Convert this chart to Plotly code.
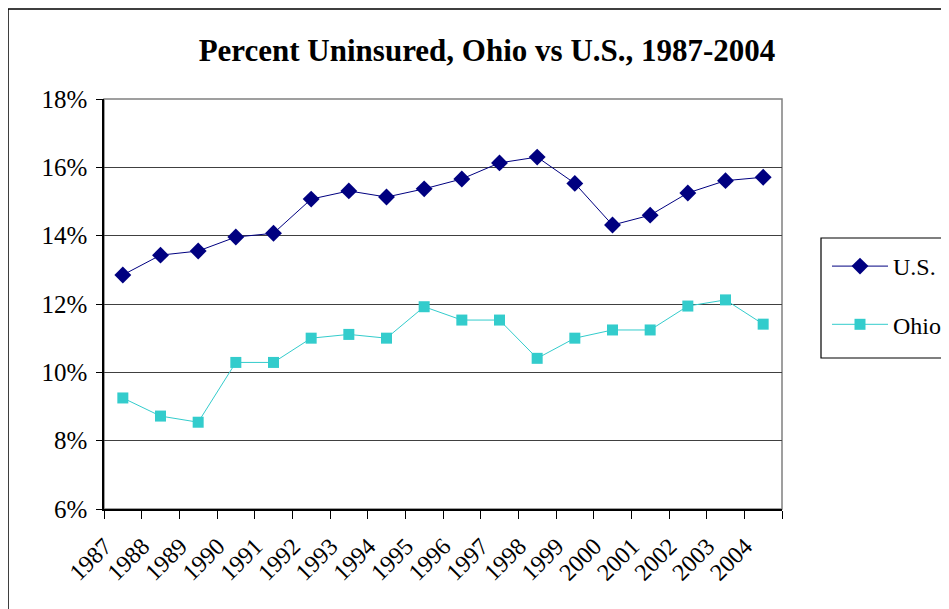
import plotly.graph_objects as go

years = [str(y) for y in range(1987, 2005)]
us_pct = [12.85, 13.43, 13.55, 13.96, 14.07, 15.07, 15.31, 15.13, 15.37,
          15.66, 16.13, 16.30, 15.53, 14.31, 14.60, 15.25, 15.61, 15.71]
ohio_pct = [9.25, 8.72, 8.54, 10.29, 10.29, 11.00, 11.11, 11.00, 11.92,
            11.53, 11.53, 10.41, 11.00, 11.24, 11.24, 11.94, 12.12, 11.41]
y_ticks = [6, 8, 10, 12, 14, 16, 18]
y_tick_labels = [f"{v}%" for v in y_ticks]

FONT = "Liberation Serif, Times New Roman, serif"

# page has an 8px body margin, so the figure is offset by (8, 8)
W, H = 941, 601
L, T, R, B = 96, 91, 167, 100
PW, PH = W - L - R, H - T - B


def px_x(page_x):
    return (page_x - 8 - L) / PW


def px_y(page_y):
    return 1 - (page_y - 8 - T) / PH


fig = go.Figure()
fig.add_trace(go.Scatter(
    x=years, y=us_pct, name="U.S.", mode="lines+markers",
    line=dict(color="#000080", width=1),
    marker=dict(symbol="diamond", size=13, color="#000080"),
    legendgroup="us",
))
fig.add_trace(go.Scatter(
    x=years, y=ohio_pct, name="Ohio", mode="lines+markers",
    line=dict(color="#33CCCC", width=1),
    marker=dict(symbol="square", size=11, color="#33CCCC"),
    legendgroup="ohio",
))

# outer chart frame (extends past the visible window)
fig.add_shape(type="rect", xref="paper", yref="paper",
              x0=px_x(8), x1=1.6, y0=-0.5, y1=px_y(9),
              line=dict(color="#000000", width=1.5), layer="below")
# plot area border
fig.add_shape(type="rect", xref="paper", yref="paper",
              x0=0, x1=1, y0=0, y1=1,
              line=dict(color="#808080", width=1.5), layer="below")
# legend box (extends past the visible window)
fig.add_shape(type="rect", xref="paper", yref="paper",
              x0=px_x(821), x1=1.4,
              y0=px_y(358), y1=px_y(238),
              line=dict(color="#000000", width=1.2), layer="below")

fig.update_layout(
    width=W, height=H,
    margin=dict(l=L, r=R, t=T, b=B, autoexpand=False),
    paper_bgcolor="white", plot_bgcolor="white",
    font=dict(family=FONT, color="#000000", size=24),
    title=dict(text="<b>Percent Uninsured, Ohio vs U.S., 1987-2004</b>",
               x=(487 - 8) / W, xanchor="center", y=1 - (50 - 8) / H,
               yanchor="middle",
               font=dict(family=FONT, size=31, color="#000000")),
    showlegend=True,
    legend=dict(x=px_x(827), xanchor="left",
                y=px_y(244), yanchor="top",
                borderwidth=0, bgcolor="rgba(0,0,0,0)",
                font=dict(family=FONT, size=24),
                tracegroupgap=24, itemwidth=56,
                traceorder="grouped"),
)
fig.update_xaxes(
    type="category", tickson="boundaries", ticks="outside", ticklen=8,
    tickcolor="#000000", tickwidth=1.2, tickangle=-45,
    showline=True, linecolor="#000000", linewidth=1.5,
    showgrid=False, tickfont=dict(family=FONT, size=24),
    range=[-0.5, 17.5], automargin=False,
    ticklabelstandoff=12, ticklabelshift=-18,
)
fig.update_yaxes(
    range=[6, 18], tickvals=y_ticks, ticktext=y_tick_labels,
    ticks="outside", ticklen=6, tickcolor="#000000", tickwidth=1.2,
    showline=True, linecolor="#000000", linewidth=1.5,
    showgrid=True, gridcolor="#404040", gridwidth=1,
    zeroline=False, tickfont=dict(family=FONT, size=25),
    automargin=False, ticklabelstandoff=4,
)

fig.write_html("out.html")
